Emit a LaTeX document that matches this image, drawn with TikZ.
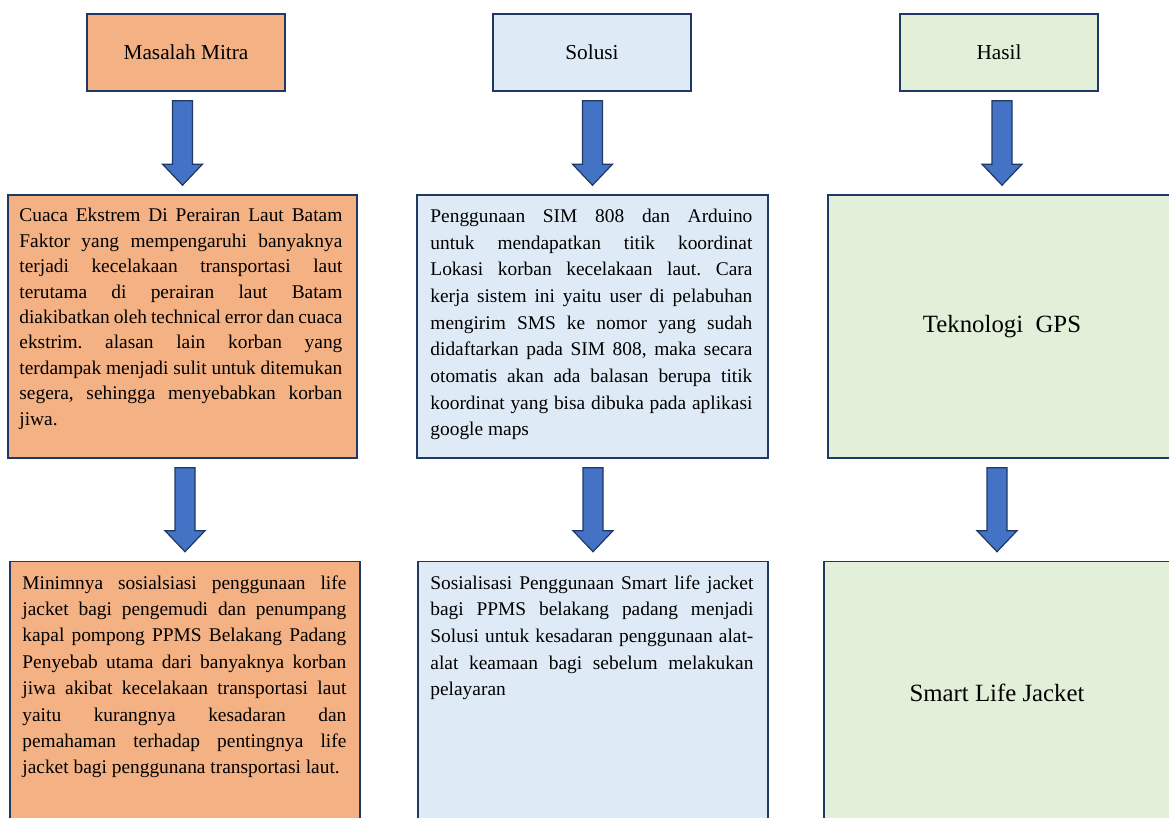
\documentclass[tikz,border=0pt]{standalone}
\usepackage{fontspec}
\setmainfont{Liberation Serif}
\usetikzlibrary{calc}
\definecolor{mitra}{HTML}{F4B183}
\definecolor{solusi}{HTML}{DEEBF7}
\definecolor{hasil}{HTML}{E2F0D9}
\definecolor{garis}{HTML}{1F3864}
\definecolor{panah}{HTML}{4472C4}
\newcommand{\gayateks}[1]{\fontsize{19.4pt}{#1pt}\selectfont\frenchspacing\tolerance=10000\relax\hyphenpenalty=10000\relax}
\begin{document}
\begin{tikzpicture}[x=1pt,y=-1pt,
  kotak/.style={draw=garis, line width=1.6pt, inner sep=0pt},
  judul/.style={kotak, minimum width=198pt, minimum height=77pt, font=\fontsize{21.3}{25}\selectfont},
  isi/.style={kotak, minimum width=350pt, minimum height=263pt},
  teks/.style={anchor=north west, inner sep=0pt, align=justify}]
\useasboundingbox (0,0) rectangle (1169,817);

\node[judul, fill=mitra] (h1) at (186,52.5) {Masalah Mitra};
\node[judul, fill=solusi] (h2) at (592,52.5) {Solusi};
\node[judul, fill=hasil] (h3) at (999,52.5) {Hasil};

\node[isi, fill=mitra, minimum width=349pt] (m1) at (182.5,326.5) {};
\node[isi, fill=solusi, minimum width=351pt] (m2) at (592.5,326.5) {};
\node[isi, fill=hasil, minimum width=348pt, font=\fontsize{24.8}{30}\selectfont] (m3) at (1002,326.5) {Teknologi~ GPS};

\node[isi, fill=mitra] (b1) at (185,693) {};
\node[isi, fill=solusi] (b2) at (593,693) {};
\node[isi, fill=hasil, minimum width=346pt, font=\fontsize{24.8}{30}\selectfont] (b3) at (997,693) {Smart Life Jacket};

\node[teks, text width=323pt] (m1t) at ($(m1.north west)+(12,14)$) {\gayateks{25.4}Cuaca Ekstrem Di Perairan Laut Batam\linebreak
Faktor yang mempengaruhi banyaknya\linebreak
terjadi kecelakaan transportasi laut\linebreak
terutama di perairan laut Batam\linebreak
diakibatkan oleh technical error dan cuaca\linebreak
ekstrim. alasan lain korban yang\linebreak
terdampak menjadi sulit untuk ditemukan\linebreak
segera, sehingga menyebabkan korban\linebreak
jiwa.\par};
\node[teks, text width=322pt] (m2t) at ($(m2.north west)+(14,14.5)$) {\gayateks{26.7}Penggunaan SIM 808 dan Arduino\linebreak
untuk mendapatkan titik koordinat\linebreak
Lokasi korban kecelakaan laut. Cara\linebreak
kerja sistem ini yaitu user di pelabuhan\linebreak
mengirim SMS ke nomor yang sudah\linebreak
didaftarkan pada SIM 808, maka secara\linebreak
otomatis akan ada balasan berupa titik\linebreak
koordinat yang bisa dibuka pada aplikasi\linebreak
google maps\par};
\node[teks, text width=324pt] (b1t) at ($(b1.north west)+(13,14.5)$) {\gayateks{26.4}Minimnya sosialsiasi penggunaan life\linebreak
jacket bagi pengemudi dan penumpang\linebreak
kapal pompong PPMS Belakang Padang\linebreak
Penyebab utama dari banyaknya korban\linebreak
jiwa akibat kecelakaan transportasi laut\linebreak
yaitu kurangnya kesadaran dan\linebreak
pemahaman terhadap pentingnya life\linebreak
jacket bagi penggunana transportasi laut.\par};
\node[teks, text width=323pt] (b2t) at ($(b2.north west)+(13,14.5)$) {\gayateks{26.7}Sosialisasi Penggunaan Smart life jacket\linebreak
bagi PPMS belakang padang menjadi\linebreak
Solusi untuk kesadaran penggunaan alat-\linebreak
alat keamaan bagi sebelum melakukan\linebreak
pelayaran\par};

\foreach \a/\b in {h1/m1,h2/m2,h3/m3,m1/b1,m2/b2,m3/b3} {
  \coordinate (ujung) at ($(\b.north)+(0,-9)$);
  \coordinate (pangkal) at (ujung |- \a.south);
  \path[draw=garis,fill=panah,line width=1.2pt] ($(pangkal)+(-10,9)$) -- ($(pangkal)+(10,9)$) -- ($(ujung)+(10,-21)$) -- ($(ujung)+(20,-21)$) -- (ujung) -- ($(ujung)+(-20,-21)$) -- ($(ujung)+(-10,-21)$) -- cycle;
}
\end{tikzpicture}
\end{document}
